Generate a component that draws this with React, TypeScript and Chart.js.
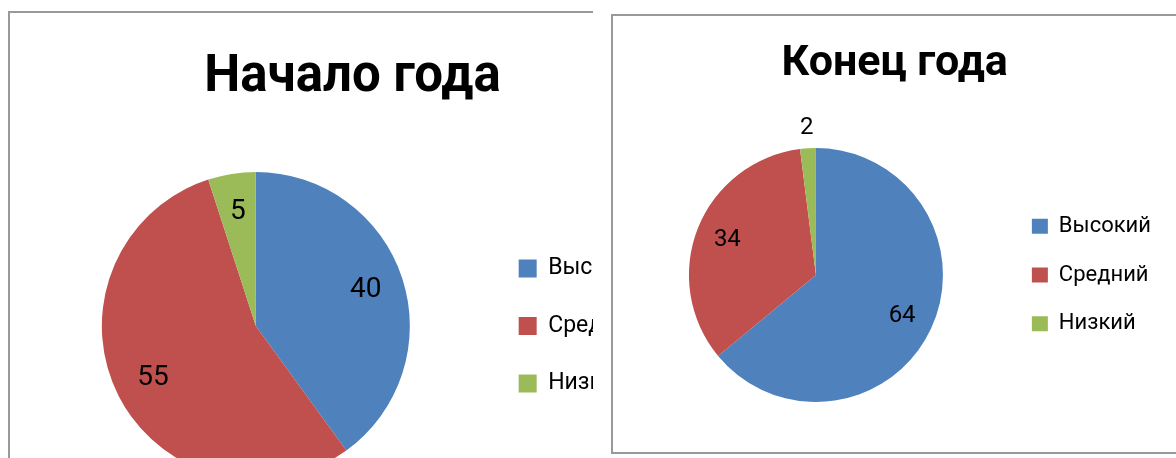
import React, { useEffect, useRef } from "react";
import { Chart, registerables } from "chart.js";

Chart.register(...registerables);

// ---- data ----
const categories = ["Высокий", "Средний", "Низкий"];
const startValues = [40, 55, 5];
const endValues = [64, 34, 2];
const startTitle = "Начало года";
const endTitle = "Конец года";
const sliceColors = ["#4F81BD", "#C0504D", "#9BBB59"];

const FONT = "Roboto, 'Noto Sans', sans-serif";
Chart.defaults.font.family = FONT;

const sliceLabelPlugin = {
  id: "sliceLabels",
  afterDatasetsDraw(chart: any, _args: any, opts: any) {
    const ctx = chart.ctx;
    const meta = chart.getDatasetMeta(0);
    const data: number[] = chart.data.datasets[0].data;
    const total = data.reduce((a, b) => a + b, 0);
    ctx.save();
    ctx.font = `${opts.size}px ${FONT}`;
    ctx.fillStyle = "#000";
    ctx.textAlign = "center";
    ctx.textBaseline = "middle";
    meta.data.forEach((arc: any, i: number) => {
      const v = data[i];
      const p = arc.getProps(["x", "y", "startAngle", "endAngle", "outerRadius"], true);
      const mid = (p.startAngle + p.endAngle) / 2;
      const share = v / total;
      const r = share < opts.outsideBelow ? p.outerRadius + opts.outsideGap : p.outerRadius * opts.insideRatio;
      ctx.fillText(String(v), p.x + Math.cos(mid) * r, p.y + Math.sin(mid) * r);
    });
    ctx.restore();
  },
};

const titleShiftPlugin = {
  id: "titleShift",
  afterLayout(chart: any, _args: any, opts: any) {
    const t = chart.titleBlock;
    if (t && opts.dx) {
      t.left += opts.dx;
      t.right += opts.dx;
    }
  },
};

type PieProps = {
  title: string;
  values: number[];
  width: number;
  height: number;
  padding: { left: number; right: number; top: number; bottom: number };
  titleSize: number;
  titlePad: { top: number; bottom: number };
  titleDx: number;
  legendSize: number;
  legendBox: [number, number];
  legendPad: number;
  labelSize: number;
};

function PieChart(props: PieProps) {
  const ref = useRef<HTMLCanvasElement>(null);
  useEffect(() => {
    const chart = new Chart(ref.current as HTMLCanvasElement, {
      type: "pie",
      data: {
        labels: categories,
        datasets: [
          {
            data: props.values,
            backgroundColor: sliceColors,
            borderWidth: 0,
          },
        ],
      },
      options: {
        responsive: false,
        animation: false,
        devicePixelRatio: 1,
        events: [],
        layout: { padding: props.padding },
        plugins: {
          title: {
            display: true,
            text: props.title,
            color: "#000",
            font: { family: FONT, size: props.titleSize, weight: "bold" },
            padding: props.titlePad,
          },
          legend: {
            position: "right",
            fullSize: false,
            labels: {
              color: "#000",
              boxWidth: props.legendBox[0],
              boxHeight: props.legendBox[1],
              padding: props.legendPad,
              font: { family: FONT, size: props.legendSize },
            },
          },
          tooltip: { enabled: false },
          sliceLabels: { size: props.labelSize, insideRatio: 0.75, outsideBelow: 0.03, outsideGap: 20 },
          titleShift: { dx: props.titleDx },
        } as any,
      },
      plugins: [sliceLabelPlugin, titleShiftPlugin],
    } as any);
    return () => chart.destroy();
  }, []);
  return (
    <canvas
      ref={ref}
      width={props.width}
      height={props.height}
      style={{ display: "block", width: props.width, height: props.height }}
    />
  );
}

export default function App() {
  const border = "2px solid #999";
  return (
    <div
      style={{
        position: "fixed",
        left: 0,
        top: 0,
        width: 1176,
        height: 458,
        overflow: "hidden",
        background: "#fff",
      }}
    >
      <div
        style={{
          position: "absolute",
          left: 8,
          top: 11,
          width: 585,
          height: 520,
          boxSizing: "border-box",
          borderLeft: border,
          borderTop: border,
          overflow: "hidden",
          background: "#fff",
        }}
      >
        <PieChart
          title={startTitle}
          values={startValues}
          width={660}
          height={507}
          padding={{ left: 17.5, right: 15.5, top: 0, bottom: 40 }}
          titleSize={51}
          titlePad={{ top: 34.5, bottom: 63.3 }}
          titleDx={11.5}
          legendSize={23}
          legendBox={[18, 18]}
          legendPad={34.5}
          labelSize={28}
        />
      </div>
      <div
        style={{
          position: "absolute",
          left: 611,
          top: 14,
          width: 620,
          height: 440,
          boxSizing: "border-box",
          border: border,
          overflow: "hidden",
          background: "#fff",
        }}
      >
        <PieChart
          title={endTitle}
          values={endValues}
          width={563}
          height={436}
          padding={{ left: 13.75, right: 15, top: 0, bottom: 50 }}
          titleSize={43}
          titlePad={{ top: 22.6, bottom: 57.8 }}
          titleDx={0.8}
          legendSize={22}
          legendBox={[16, 15]}
          legendPad={26.75}
          labelSize={24}
        />
      </div>
    </div>
  );
}
